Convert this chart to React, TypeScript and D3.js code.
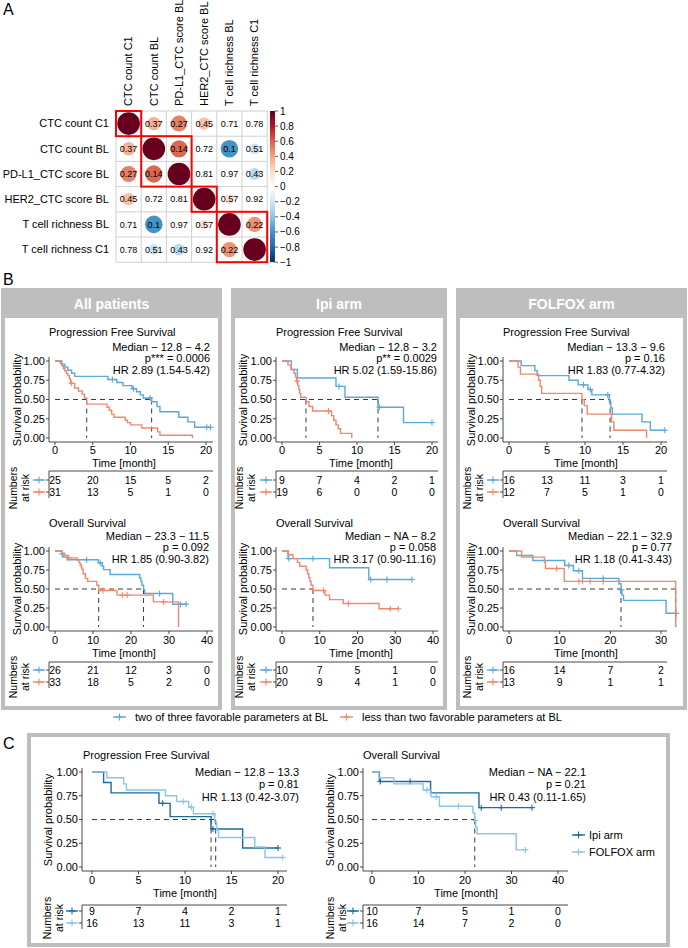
import React from "react";
import * as d3 from "d3";

const FONT = "'Liberation Sans', Arial, Helvetica, sans-serif";
const BLUE = "#5ba8da";
const ORANGE = "#f2886b";
const DARK = "#1d6c9e";
const LIGHT = "#8cc4e6";
const GRAY = "#bebebe";
const AXIS = "#333333";

// ---------- Panel A data ----------
const corrNames = [
  "CTC count C1",
  "CTC count BL",
  "PD-L1_CTC score BL",
  "HER2_CTC score BL",
  "T cell richness BL",
  "T cell richness C1",
];
const corrRow0 = [1, 0.35, 0.5, 0.3, 0.08, 0.05];
const corrRow1 = [0.35, 1, 0.58, 0.03, -0.6, -0.22];
const corrRow2 = [0.5, 0.58, 1, 0.06, 0.01, -0.27];
const corrRow3 = [0.3, 0.03, 0.06, 1, 0.18, 0.02];
const corrRow4 = [0.08, -0.6, 0.01, 0.18, 1, 0.45];
const corrRow5 = [0.05, -0.22, -0.27, 0.02, 0.45, 1];
const pRow0 = ["", "0.37", "0.27", "0.45", "0.71", "0.78"];
const pRow1 = ["0.37", "", "0.14", "0.72", "0.1", "0.51"];
const pRow2 = ["0.27", "0.14", "", "0.81", "0.97", "0.43"];
const pRow3 = ["0.45", "0.72", "0.81", "", "0.57", "0.92"];
const pRow4 = ["0.71", "0.1", "0.97", "0.57", "", "0.22"];
const pRow5 = ["0.78", "0.51", "0.43", "0.92", "0.22", ""];
const clusterStart = [0, 1, 3, 4];
const clusterSize = [1, 2, 1, 2];
const colorbarTicks = [1, 0.8, 0.6, 0.4, 0.2, 0, -0.2, -0.4, -0.6, -0.8, -1];
const corrPalette = ["#053061", "#2166AC", "#4393C3", "#92C5DE", "#D1E5F0", "#FFFFFF", "#FDDBC7", "#F4A582", "#D6604D", "#B2182B", "#67001F"];
const corrPaletteDomain = [-1, -0.8, -0.6, -0.4, -0.2, 0, 0.2, 0.4, 0.6, 0.8, 1];

// ---------- Survival data ----------
type Curve = { t: number[]; s: number[]; end: number; cens: number[] };

const allPfsFav: Curve = {
  t: [0, 0.9, 1.3, 1.7, 2.2, 2.6, 7.0, 8.2, 9.0, 10.2, 10.8, 11.3, 11.7, 12.8, 13.5, 13.9, 16.4, 17.6, 18.5],
  s: [1, 0.96, 0.92, 0.88, 0.84, 0.8, 0.76, 0.72, 0.68, 0.64, 0.6, 0.56, 0.52, 0.47, 0.41, 0.34, 0.27, 0.21, 0.14],
  end: 20.6,
  cens: [7.6, 10.4, 12.6, 20.1, 20.6],
};
const allPfsLess: Curve = {
  t: [0, 0.7, 0.9, 1.1, 1.3, 1.5, 1.7, 1.9, 2.05, 2.6, 3.1, 3.6, 3.9, 4.2, 6.9, 7.2, 7.5, 7.8, 9.3, 9.6, 10.0, 11.5, 13.6, 13.9, 18.2],
  s: [1, 0.97, 0.94, 0.9, 0.87, 0.84, 0.81, 0.77, 0.71, 0.65, 0.61, 0.57, 0.52, 0.44, 0.4, 0.36, 0.31, 0.27, 0.23, 0.2, 0.17, 0.13, 0.08, 0.035, 0],
  end: 18.2,
  cens: [2.2],
};
const ipiPfsFav: Curve = {
  t: [0, 1.25, 2.05, 7.2, 8.4, 12.8, 16.2],
  s: [1, 0.89, 0.78, 0.67, 0.53, 0.4, 0.2],
  end: 20.0,
  cens: [7.6, 13.0, 20.0],
};
const ipiPfsLess: Curve = {
  t: [0, 0.8, 1.2, 1.6, 1.8, 1.95, 2.1, 2.25, 2.35, 2.5, 3.2, 3.6, 4.1, 6.6, 6.9, 7.2, 7.5, 7.8, 9.3],
  s: [1, 0.95, 0.89, 0.84, 0.79, 0.74, 0.68, 0.63, 0.58, 0.53, 0.47, 0.41, 0.35, 0.29, 0.23, 0.17, 0.12, 0.06, 0],
  end: 9.3,
  cens: [2.0, 6.2],
};
const folPfsFav: Curve = {
  t: [0, 1.6, 3.4, 3.7, 7.9, 9.1, 10.4, 10.9, 13.2, 13.4, 13.6, 17.5, 18.6],
  s: [1, 0.94, 0.875, 0.81, 0.75, 0.69, 0.63, 0.56, 0.47, 0.39, 0.31, 0.21, 0.1],
  end: 20.5,
  cens: [9.8, 10.7, 13.0, 20.5],
};
const folPfsLess: Curve = {
  t: [0, 1.2, 1.5, 3.9, 4.1, 4.3, 9.6, 9.9, 10.3, 13.5, 13.8, 18.1],
  s: [1, 0.92, 0.83, 0.75, 0.67, 0.58, 0.5, 0.42, 0.31, 0.21, 0.1, 0],
  end: 18.1,
  cens: [],
};
const allOsFav: Curve = {
  t: [0, 1.8, 2.1, 3.2, 11.4, 12.4, 12.8, 14.5, 22.3, 22.6, 22.9, 23.3, 23.6, 31.0],
  s: [1, 0.96, 0.92, 0.885, 0.845, 0.8, 0.755, 0.69, 0.645, 0.6, 0.55, 0.49, 0.44, 0.3],
  end: 34.5,
  cens: [1.9, 8.3, 11.9, 27.5, 33.0, 34.5],
};
const allOsLess: Curve = {
  t: [0, 1.7, 2.5, 3.3, 5.9, 6.3, 6.6, 6.9, 7.1, 7.4, 8.0, 8.6, 11.0, 11.5, 16.3, 25.9, 32.5],
  s: [1, 0.97, 0.94, 0.91, 0.88, 0.85, 0.82, 0.79, 0.76, 0.7, 0.64, 0.6, 0.55, 0.48, 0.42, 0.33, 0],
  end: 32.5,
  cens: [3.6, 12.6, 17.7, 19.0, 28.6],
};
const ipiOsFav: Curve = {
  t: [0, 1.6, 12.6, 23.0],
  s: [1, 0.9, 0.78, 0.625],
  end: 34.4,
  cens: [1.8, 8.2, 23.5, 27.8, 34.4],
};
const ipiOsLess: Curve = {
  t: [0, 1.6, 2.9, 4.1, 4.7, 6.4, 6.8, 7.1, 7.4, 7.7, 8.2, 11.4, 12.6, 16.2, 25.7],
  s: [1, 0.95, 0.9, 0.85, 0.8, 0.75, 0.7, 0.65, 0.6, 0.55, 0.48, 0.42, 0.36, 0.31, 0.24],
  end: 30.8,
  cens: [11.0, 17.6, 28.7, 30.8],
};
const folOsFav: Curve = {
  t: [0, 1.5, 4.7, 11.0, 12.7, 14.5, 21.7, 22.1, 22.3, 22.6, 31.0],
  s: [1, 0.94, 0.875, 0.81, 0.74, 0.64, 0.57, 0.49, 0.42, 0.35, 0.18],
  end: 33.0,
  cens: [11.8, 13.8, 18.6, 22.2, 33.0],
};
const folOsLess: Curve = {
  t: [0, 2.5, 7.0, 7.2, 10.9, 32.9],
  s: [1, 0.92, 0.85, 0.77, 0.6, 0],
  end: 32.9,
  cens: [9.4, 13.8, 14.5, 16.0, 18.6],
};

const pfsTicks = [0, 5, 10, 15, 20];
const osTicks = [0, 10, 20, 30, 40];
const osFolfoxTicks = [0, 10, 20, 30];
const probTicks = [0, 0.25, 0.5, 0.75, 1];

const allPfsRiskFav = [25, 20, 15, 5, 2];
const allPfsRiskLess = [31, 13, 5, 1, 0];
const ipiPfsRiskFav = [9, 7, 4, 2, 1];
const ipiPfsRiskLess = [19, 6, 0, 0, 0];
const folPfsRiskFav = [16, 13, 11, 3, 1];
const folPfsRiskLess = [12, 7, 5, 1, 0];
const allOsRiskFav = [26, 21, 12, 3, 0];
const allOsRiskLess = [33, 18, 5, 2, 0];
const ipiOsRiskFav = [10, 7, 5, 1, 0];
const ipiOsRiskLess = [20, 9, 4, 1, 0];
const folOsRiskFav = [16, 14, 7, 2];
const folOsRiskLess = [13, 9, 1, 1];
const cOsRiskFolfox = [16, 14, 7, 2, 0];

const allPfsMedians = [12.8, 4.2];
const ipiPfsMedians = [12.8, 3.2];
const folPfsMedians = [13.3, 9.6];
const allOsMedians = [23.3, 11.5];
const ipiOsMedians = [8.2];
const folOsMedians = [22.1, 32.9];
const cPfsMedians = [12.8, 13.3];
const cOsMedians = [22.1];

const allPfsStats = ["Median − 12.8 − 4.2", "p*** = 0.0006", "HR 2.89 (1.54-5.42)"];
const ipiPfsStats = ["Median − 12.8 − 3.2", "p** = 0.0029", "HR 5.02 (1.59-15.86)"];
const folPfsStats = ["Median − 13.3 − 9.6", "p = 0.16", "HR 1.83 (0.77-4.32)"];
const allOsStats = ["Median − 23.3 − 11.5", "p = 0.092", "HR 1.85 (0.90-3.82)"];
const ipiOsStats = ["Median − NA − 8.2", "p = 0.058", "HR 3.17 (0.90-11.16)"];
const folOsStats = ["Median − 22.1 − 32.9", "p = 0.77", "HR 1.18 (0.41-3.43)"];
const cPfsStats = ["Median − 12.8 − 13.3", "p = 0.81", "HR 1.13 (0.42-3.07)"];
const cOsStats = ["Median − NA − 22.1", "p = 0.21", "HR 0.43 (0.11-1.65)"];

const boxTitles = ["All patients", "Ipi arm", "FOLFOX arm"];
const groupLabels = ["two of three favorable parameters at BL", "less than two favorable parameters at BL"];
const armLabels = ["Ipi arm", "FOLFOX arm"];

// ---------- helpers ----------
function survAt(c: Curve, time: number) {
  let v = c.s[0];
  for (let i = 0; i < c.t.length; i++) if (c.t[i] <= time) v = c.s[i];
  return v;
}

function Cross({ x, y, color, r = 3 }: { x: number; y: number; color: string; r?: number }) {
  return (
    <g stroke={color} strokeWidth={1.1}>
      <line x1={x - r} x2={x + r} y1={y} y2={y} />
      <line x1={x} x2={x} y1={y - r} y2={y + r} />
    </g>
  );
}

function Glyph({ x1, x2, y, color }: { x1: number; x2: number; y: number; color: string }) {
  return (
    <g>
      <line x1={x1} x2={x2} y1={y} y2={y} stroke={color} strokeWidth={1.4} />
      <Cross x={(x1 + x2) / 2} y={y} color={color} r={3.5} />
    </g>
  );
}

type KMProps = {
  x0: number; x1: number; ticks: number[]; axisGap: number; axisR: number;
  yTop: number; yBot: number;
  title: string; titleX: number; titleY: number;
  stats: string[]; statsX: number; statsY: number; statsDy: number;
  curves: Curve[]; colors: string[]; medians: number[];
  risk: number[][]; riskTop: number; riskRows: number[];
  ylabX: number; ylabY: number; numX: number[]; numY: number;
  tickLabY: number; timeX: number; timeY: number;
};

function KM(p: KMProps) {
  const tickMax = p.ticks[p.ticks.length - 1];
  const x = d3.scaleLinear().domain([0, tickMax]).range([p.x0, p.x1]);
  const y = d3.scaleLinear().domain([0, 1]).range([p.yBot, p.yTop]);
  const axisL = p.x0 - p.axisGap;
  const axisY = p.yBot + 4;
  const line = d3
    .line<[number, number]>()
    .curve(d3.curveStepAfter)
    .x((d) => x(d[0]))
    .y((d) => y(d[1]));
  const medMax = d3.max(p.medians) ?? 0;
  const riskBottom = p.riskRows[1] + 6;
  return (
    <g fontFamily={FONT} fontSize={11} fill="#000">
      <text x={p.titleX} y={p.titleY} dy="0.35em">{p.title}</text>
      {p.stats.map((s, i) => (
        <text key={i} x={p.statsX} y={p.statsY + i * p.statsDy} dy="0.35em" textAnchor="end">{s}</text>
      ))}
      <line x1={axisL} x2={axisL} y1={p.yTop - 4} y2={axisY} stroke={AXIS} strokeWidth={0.9} />
      <line x1={axisL} x2={p.axisR} y1={axisY} y2={axisY} stroke={AXIS} strokeWidth={0.9} />
      {probTicks.map((v) => (
        <g key={v}>
          <line x1={axisL - 3} x2={axisL} y1={y(v)} y2={y(v)} stroke={AXIS} strokeWidth={0.9} />
          <text x={axisL - 4} y={y(v)} dy="0.35em" textAnchor="end">{v.toFixed(2)}</text>
        </g>
      ))}
      {p.ticks.map((v) => (
        <g key={v}>
          <line x1={x(v)} x2={x(v)} y1={axisY} y2={axisY + 3} stroke={AXIS} strokeWidth={0.9} />
          <text x={x(v)} y={p.tickLabY} dy="0.35em" textAnchor="middle">{v}</text>
        </g>
      ))}
      <text x={p.timeX} y={p.timeY} dy="0.35em" textAnchor="middle">Time [month]</text>
      <text transform={`translate(${p.ylabX},${p.ylabY}) rotate(-90)`} dy="0.35em" textAnchor="middle">Survival probability</text>
      {p.medians.length > 0 && (
        <line x1={x(0)} x2={x(medMax)} y1={y(0.5)} y2={y(0.5)} stroke="#3a3a3a" strokeWidth={1} strokeDasharray="5 4" />
      )}
      {p.medians.map((m, i) => (
        <line key={i} x1={x(m)} x2={x(m)} y1={y(0.5)} y2={y(0)} stroke="#3a3a3a" strokeWidth={1} strokeDasharray="5 4" />
      ))}
      {p.curves.map((c, i) => {
        const pts: [number, number][] = c.t.map((t, j) => [t, c.s[j]] as [number, number]);
        pts.push([c.end, c.s[c.s.length - 1]]);
        return (
          <g key={i}>
            <path d={line(pts) ?? ""} fill="none" stroke={p.colors[i]} strokeWidth={1.4} />
            {c.cens.map((ct, k) => (
              <Cross key={k} x={x(ct)} y={y(survAt(c, ct))} color={p.colors[i]} />
            ))}
          </g>
        );
      })}
      <line x1={axisL} x2={p.axisR} y1={p.riskTop} y2={p.riskTop} stroke={AXIS} strokeWidth={0.9} />
      <line x1={axisL} x2={axisL} y1={p.riskTop} y2={riskBottom} stroke={AXIS} strokeWidth={0.9} />
      {p.risk.map((row, i) => (
        <g key={i}>
          <line x1={axisL - 3} x2={axisL} y1={p.riskRows[i]} y2={p.riskRows[i]} stroke={AXIS} strokeWidth={0.9} />
          <Glyph x1={axisL - 16} x2={axisL - 4} y={p.riskRows[i]} color={p.colors[i]} />
          {row.map((n, k) => (
            <text key={k} x={x(p.ticks[k])} y={p.riskRows[i]} dy="0.35em" textAnchor="middle" fontSize={10.5}>{n}</text>
          ))}
        </g>
      ))}
      <text transform={`translate(${p.numX[0]},${p.numY}) rotate(-90)`} dy="0.35em" textAnchor="middle" fontSize={10.5}>Numbers</text>
      <text transform={`translate(${p.numX[1]},${p.numY}) rotate(-90)`} dy="0.35em" textAnchor="middle" fontSize={10.5}>at risk</text>
    </g>
  );
}

function CorrPanel() {
  const rows = [corrRow0, corrRow1, corrRow2, corrRow3, corrRow4, corrRow5];
  const pRows = [pRow0, pRow1, pRow2, pRow3, pRow4, pRow5];
  const left = 116, top = 111, size = 151.2;
  const band = d3.scaleBand<number>().domain(d3.range(6)).range([left, left + size]);
  const bandY = d3.scaleBand<number>().domain(d3.range(6)).range([top, top + size]);
  const cell = band.bandwidth();
  const color = d3.scaleLinear<string>().domain(corrPaletteDomain).range(corrPalette);
  const cbY = d3.scaleLinear().domain([-1, 1]).range([top + size, top]);
  return (
    <g fontFamily={FONT}>
      <text x={3} y={15} fontSize={16}>A</text>
      {d3.range(7).map((i) => (
        <g key={i}>
          <line x1={left + i * cell} x2={left + i * cell} y1={top} y2={top + size} stroke="#d0d0d0" />
          <line x1={left} x2={left + size} y1={top + i * cell} y2={top + i * cell} stroke="#d0d0d0" />
        </g>
      ))}
      {rows.map((row, i) =>
        row.map((r, j) => (
          <g key={`${i}-${j}`}>
            <circle
              cx={(band(j) ?? 0) + cell / 2}
              cy={(bandY(i) ?? 0) + cell / 2}
              r={(0.9 * cell * Math.sqrt(Math.abs(r))) / 2}
              fill={color(r)}
            />
            {pRows[i][j] && (
              <text x={(band(j) ?? 0) + cell / 2} y={(bandY(i) ?? 0) + cell / 2} dy="0.35em" textAnchor="middle" fontSize={9}>
                {pRows[i][j]}
              </text>
            )}
          </g>
        ))
      )}
      {corrNames.map((n, i) => (
        <text key={"r" + i} x={109} y={(bandY(i) ?? 0) + cell / 2} dy="0.35em" textAnchor="end" fontSize={11}>{n}</text>
      ))}
      {corrNames.map((n, i) => (
        <text key={"c" + i} transform={`translate(${(band(i) ?? 0) + cell / 2},${106}) rotate(-90)`} dy="0.35em" fontSize={11}>{n}</text>
      ))}
      {clusterStart.map((s, k) => (
        <rect key={k} x={band(s)} y={bandY(s)} width={cell * clusterSize[k]} height={cell * clusterSize[k]} fill="none" stroke="#ff0000" strokeWidth={2} />
      ))}
      <defs>
        <linearGradient id="cbar" x1="0" y1="1" x2="0" y2="0">
          {corrPalette.map((c, i) => (
            <stop key={i} offset={`${(i / (corrPalette.length - 1)) * 100}%`} stopColor={c} />
          ))}
        </linearGradient>
      </defs>
      <rect x={270} y={top} width={5} height={size} fill="url(#cbar)" />
      {colorbarTicks.map((v) => (
        <g key={v}>
          <line x1={275} x2={278} y1={cbY(v)} y2={cbY(v)} stroke="#333" strokeWidth={0.8} />
          <text x={280} y={cbY(v)} dy="0.35em" fontSize={10}>{v < 0 ? "−" + Math.abs(v) : String(v)}</text>
        </g>
      ))}
    </g>
  );
}

const colX0 = [55, 282, 509];
const colBox = [[1, 222], [231, 447], [456, 687]];
const colYlab = [17, 243, 471];
const colNum = [[13, 25], [239, 251], [467, 479]];
const colTime = [124, 361, 586];

export default function App() {
  const pfsDatasets = [
    { curves: [allPfsFav, allPfsLess], risk: [allPfsRiskFav, allPfsRiskLess], med: allPfsMedians, stats: allPfsStats, x1: 206, axisR: 213, statsX: 210 },
    { curves: [ipiPfsFav, ipiPfsLess], risk: [ipiPfsRiskFav, ipiPfsRiskLess], med: ipiPfsMedians, stats: ipiPfsStats, x1: 432, axisR: 438, statsX: 437 },
    { curves: [folPfsFav, folPfsLess], risk: [folPfsRiskFav, folPfsRiskLess], med: folPfsMedians, stats: folPfsStats, x1: 661, axisR: 667, statsX: 665 },
  ];
  const osDatasets = [
    { curves: [allOsFav, allOsLess], risk: [allOsRiskFav, allOsRiskLess], med: allOsMedians, stats: allOsStats, ticks: osTicks, x1: 207, axisR: 213, statsX: 209 },
    { curves: [ipiOsFav, ipiOsLess], risk: [ipiOsRiskFav, ipiOsRiskLess], med: ipiOsMedians, stats: ipiOsStats, ticks: osTicks, x1: 433, axisR: 438, statsX: 436 },
    { curves: [folOsFav, folOsLess], risk: [folOsRiskFav, folOsRiskLess], med: folOsMedians, stats: folOsStats, ticks: osFolfoxTicks, x1: 661, axisR: 667, statsX: 672 },
  ];
  return (
    <svg width={688} height={948} style={{ position: "absolute", left: 0, top: 0, background: "#fff" }} fontFamily={FONT}>
      <rect x={0} y={0} width={688} height={948} fill="#fff" />
      <CorrPanel />
      <text x={3} y={285} fontSize={16} fontFamily={FONT}>B</text>
      {colBox.map(([a, b], c) => (
        <g key={c}>
          <rect x={a + 2} y={290} width={b - a - 4} height={418} fill="#fff" stroke={GRAY} strokeWidth={4} />
          <rect x={a} y={288} width={b - a} height={30} fill={GRAY} />
          <text x={(a + b) / 2} y={304} dy="0.35em" textAnchor="middle" fill="#fff" fontWeight="bold" fontSize={14} fontFamily={FONT}>
            {boxTitles[c]}
          </text>
          <KM
            x0={colX0[c]} x1={pfsDatasets[c].x1} ticks={pfsTicks} axisGap={6} axisR={pfsDatasets[c].axisR}
            yTop={361} yBot={438}
            title="Progression Free Survival" titleX={colX0[c] - 6} titleY={332}
            stats={pfsDatasets[c].stats} statsX={pfsDatasets[c].statsX} statsY={347} statsDy={11.5}
            curves={pfsDatasets[c].curves} colors={[BLUE, ORANGE]} medians={pfsDatasets[c].med}
            risk={pfsDatasets[c].risk} riskTop={471} riskRows={[480, 492]}
            ylabX={colYlab[c]} ylabY={400} numX={colNum[c]} numY={488}
            tickLabY={450.5} timeX={colTime[c]} timeY={463.5}
          />
          <KM
            x0={colX0[c]} x1={osDatasets[c].x1} ticks={osDatasets[c].ticks} axisGap={6} axisR={osDatasets[c].axisR}
            yTop={551} yBot={627}
            title="Overall Survival" titleX={colX0[c] - 6} titleY={523}
            stats={osDatasets[c].stats} statsX={osDatasets[c].statsX} statsY={536} statsDy={11.5}
            curves={osDatasets[c].curves} colors={[BLUE, ORANGE]} medians={osDatasets[c].med}
            risk={osDatasets[c].risk} riskTop={662} riskRows={[670, 682]}
            ylabX={colYlab[c]} ylabY={589} numX={colNum[c]} numY={677}
            tickLabY={640.5} timeX={colTime[c]} timeY={653.5}
          />
        </g>
      ))}
      <g fontFamily={FONT} fontSize={11}>
        <Glyph x1={113} x2={126} y={717} color={BLUE} />
        <text x={135} y={717} dy="0.35em">{groupLabels[0]}</text>
        <Glyph x1={340} x2={353} y={717} color={ORANGE} />
        <text x={362} y={717} dy="0.35em">{groupLabels[1]}</text>
      </g>
      <text x={3} y={749} fontSize={16} fontFamily={FONT}>C</text>
      <rect x={29} y={735} width={639} height={210} fill="#fff" stroke={GRAY} strokeWidth={4} />
      <KM
        x0={92} x1={278} ticks={pfsTicks} axisGap={10} axisR={287}
        yTop={772} yBot={867}
        title="Progression Free Survival" titleX={83} titleY={755}
        stats={cPfsStats} statsX={299} statsY={772} statsDy={12.5}
        curves={[ipiPfsFav, folPfsFav]} colors={[DARK, LIGHT]} medians={cPfsMedians}
        risk={[ipiPfsRiskFav, folPfsRiskFav]} riskTop={905} riskRows={[911, 923]}
        ylabX={48} ylabY={820} numX={[47, 59]} numY={918}
        tickLabY={880.5} timeX={185} timeY={893.5}
      />
      <KM
        x0={372} x1={558} ticks={osTicks} axisGap={9} axisR={568}
        yTop={772} yBot={867}
        title="Overall Survival" titleX={363} titleY={755}
        stats={cOsStats} statsX={586} statsY={772} statsDy={12.5}
        curves={[ipiOsFav, folOsFav]} colors={[DARK, LIGHT]} medians={cOsMedians}
        risk={[ipiOsRiskFav, cOsRiskFolfox]} riskTop={905} riskRows={[911, 923]}
        ylabX={330} ylabY={820} numX={[330, 342]} numY={918}
        tickLabY={880.5} timeX={466} timeY={893.5}
      />
      <g fontFamily={FONT} fontSize={11}>
        <Glyph x1={572} x2={585} y={835} color={DARK} />
        <text x={589} y={835} dy="0.35em">{armLabels[0]}</text>
        <Glyph x1={572} x2={585} y={852} color={LIGHT} />
        <text x={589} y={852} dy="0.35em">{armLabels[1]}</text>
      </g>
    </svg>
  );
}
